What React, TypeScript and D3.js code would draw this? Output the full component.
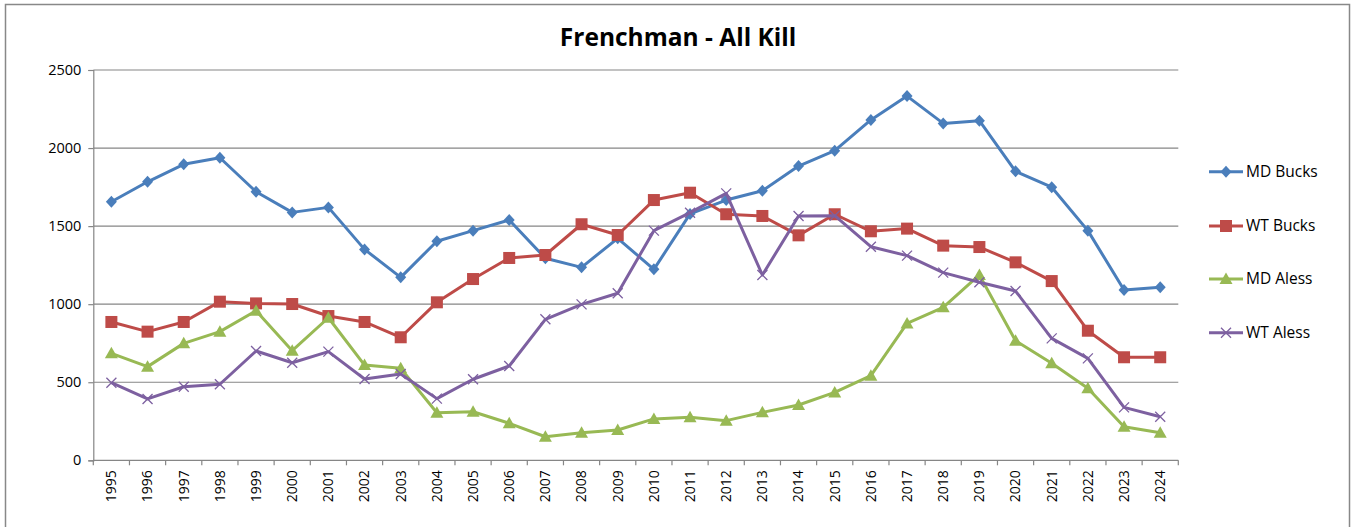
import * as d3 from 'd3';
import { useEffect, useRef } from 'react';

const years = [
  '1995', '1996', '1997', '1998', '1999', '2000', '2001', '2002', '2003', '2004',
  '2005', '2006', '2007', '2008', '2009', '2010', '2011', '2012', '2013', '2014',
  '2015', '2016', '2017', '2018', '2019', '2020', '2021', '2022', '2023', '2024',
];

const mdBucks = [
  1656, 1784, 1896, 1938, 1720, 1588, 1620, 1351, 1172, 1403,
  1471, 1539, 1294, 1236, 1422, 1223, 1578, 1667, 1727, 1885,
  1983, 2180, 2333, 2158, 2175, 1851, 1749, 1471, 1091, 1108,
];
const wtBucks = [
  886, 824, 886, 1016, 1005, 1001, 924, 886, 788, 1012,
  1161, 1296, 1315, 1512, 1443, 1667, 1714, 1576, 1565, 1441,
  1576, 1467, 1484, 1375, 1366, 1268, 1148, 830, 660, 660,
];
const mdAless = [
  685, 600, 749, 824, 958, 702, 913, 610, 589, 305,
  311, 237, 151, 177, 194, 265, 275, 254, 307, 354,
  435, 542, 877, 980, 1187, 766, 621, 461, 215, 177,
];
const wtAless = [
  497, 393, 471, 487, 700, 625, 696, 521, 553, 395,
  519, 604, 903, 999, 1070, 1471, 1586, 1710, 1187, 1565,
  1567, 1368, 1311, 1202, 1140, 1084, 781, 653, 339, 279,
];

const yTicks = [0, 500, 1000, 1500, 2000, 2500];
const seriesNames = ['MD Bucks', 'WT Bucks', 'MD Aless', 'WT Aless'];
const seriesColors = ['#4A7EBB', '#BE4B48', '#98B954', '#7D60A0'];
const seriesMarkers = ['diamond', 'square', 'triangle', 'cross'];

const W = 1351;
const H = 527;
const FONT = '"Open Sans", Calibri, sans-serif';

const drawMarker = (g, kind, x, y, color) => {
  if (kind === 'diamond') {
    g.append('path')
      .attr('d', `M${x},${y - 6}L${x + 5.5},${y}L${x},${y + 6}L${x - 5.5},${y}Z`)
      .attr('fill', color);
  } else if (kind === 'square') {
    g.append('rect')
      .attr('x', x - 6).attr('y', y - 6)
      .attr('width', 12).attr('height', 12)
      .attr('fill', color);
  } else if (kind === 'triangle') {
    g.append('path')
      .attr('d', `M${x},${y - 6.5}L${x + 6.5},${y + 5}L${x - 6.5},${y + 5}Z`)
      .attr('fill', color);
  } else {
    g.append('path')
      .attr('d', `M${x - 5},${y - 5}L${x + 5},${y + 5}M${x - 5},${y + 5}L${x + 5},${y - 5}`)
      .attr('stroke', color)
      .attr('stroke-width', 1.3)
      .attr('fill', 'none');
  }
};

const App = () => {
  const ref = useRef(null);

  useEffect(() => {
    const svg = d3.select(ref.current);
    svg.selectAll('*').remove();

    const margin = { left: 93.3, right: 1178.3, top: 70, bottom: 460.3 };
    const allSeries = [mdBucks, wtBucks, mdAless, wtAless];

    // chart border
    svg.append('rect')
      .attr('x', 5.5).attr('y', 4.5)
      .attr('width', 1344).attr('height', 540)
      .attr('fill', '#fff')
      .attr('stroke', '#888')
      .attr('stroke-width', 1.5);

    const x = d3.scaleBand().domain(years).range([margin.left, margin.right]);
    const y = d3.scaleLinear().domain([0, 2500]).range([margin.bottom, margin.top]);

    // gridlines
    svg.append('g')
      .selectAll('line')
      .data(yTicks.filter((t) => t > 0))
      .enter()
      .append('line')
      .attr('x1', margin.left).attr('x2', margin.right)
      .attr('y1', (d) => y(d)).attr('y2', (d) => y(d))
      .attr('stroke', '#868686')
      .attr('stroke-width', 1.2);

    // y axis
    const yAxis = svg.append('g').attr('transform', `translate(${margin.left},0)`)
      .call(d3.axisLeft(y).tickValues(yTicks).tickFormat(d3.format('d')).tickSize(5).tickPadding(7));
    yAxis.select('.domain').attr('stroke', '#868686').attr('stroke-width', 1.2);
    yAxis.selectAll('line').attr('stroke', '#868686').attr('stroke-width', 1.2);
    yAxis.selectAll('text')
      .attr('font-family', FONT).attr('font-size', 14.5).attr('fill', '#000');

    // x axis
    const xg = svg.append('g').attr('transform', `translate(0,${margin.bottom})`);
    xg.append('line')
      .attr('x1', margin.left).attr('x2', margin.right)
      .attr('stroke', '#868686').attr('stroke-width', 1.2);
    xg.selectAll('.tk')
      .data(d3.range(years.length + 1))
      .enter()
      .append('line')
      .attr('x1', (i) => margin.left + i * x.bandwidth())
      .attr('x2', (i) => margin.left + i * x.bandwidth())
      .attr('y1', 0).attr('y2', 5)
      .attr('stroke', '#868686').attr('stroke-width', 1.2);
    xg.selectAll('text')
      .data(years)
      .enter()
      .append('text')
      .attr('transform', (d) => `translate(${x(d) + x.bandwidth() / 2},10) rotate(-90)`)
      .attr('text-anchor', 'end')
      .attr('dy', '0.35em')
      .attr('font-family', FONT).attr('font-size', 14).attr('fill', '#000')
      .text((d) => d);

    // lines + markers
    allSeries.forEach((vals, si) => {
      const line = d3.line()
        .x((d, i) => x(years[i]) + x.bandwidth() / 2)
        .y((d) => y(d));
      svg.append('path')
        .datum(vals)
        .attr('d', line)
        .attr('fill', 'none')
        .attr('stroke', seriesColors[si])
        .attr('stroke-width', 3)
        .attr('stroke-linejoin', 'round');
      const mg = svg.append('g');
      vals.forEach((v, i) => {
        drawMarker(mg, seriesMarkers[si], x(years[i]) + x.bandwidth() / 2, y(v), seriesColors[si]);
      });
    });

    // title
    svg.append('text')
      .attr('x', 678).attr('y', 46)
      .attr('text-anchor', 'middle')
      .attr('font-family', FONT).attr('font-weight', 'bold').attr('font-size', 24.5)
      .attr('fill', '#000')
      .text('Frenchman - All Kill');

    // legend
    const legendY = [171.7, 226, 279, 332.7];
    seriesNames.forEach((name, i) => {
      const lg = svg.append('g');
      lg.append('line')
        .attr('x1', 1209).attr('x2', 1243)
        .attr('y1', legendY[i]).attr('y2', legendY[i])
        .attr('stroke', seriesColors[i]).attr('stroke-width', 3);
      drawMarker(lg, seriesMarkers[i], 1226, legendY[i], seriesColors[i]);
      lg.append('text')
        .attr('x', 1246).attr('y', legendY[i])
        .attr('dy', '0.35em')
        .attr('font-family', FONT).attr('font-size', 15.5).attr('fill', '#000')
        .text(name);
    });
  }, []);

  return (
    <svg
      ref={ref}
      width={W}
      height={H}
      style={{ position: 'absolute', left: 0, top: 0, display: 'block', background: '#fff' }}
    />
  );
};

export default App;
